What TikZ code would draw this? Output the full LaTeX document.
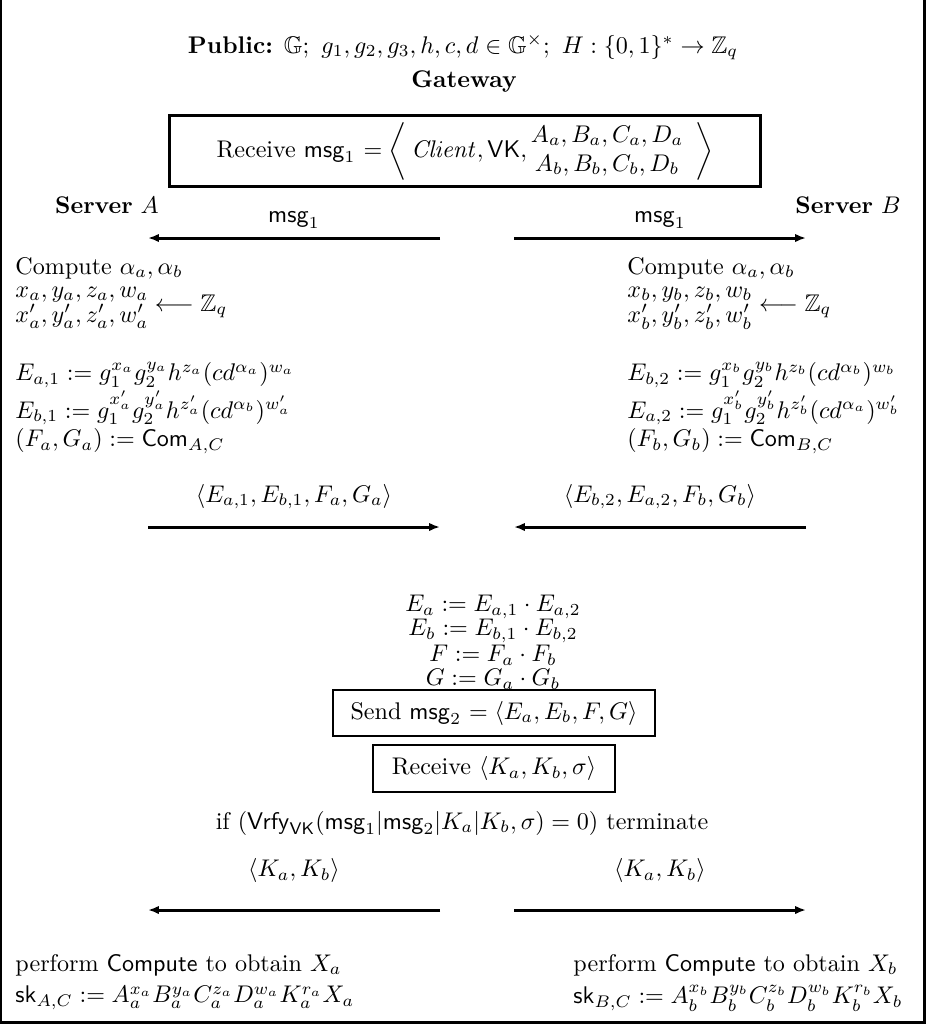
\documentclass[tikz,border=0pt]{standalone}
\usepackage{amsmath}
\usepackage{amssymb}
\usetikzlibrary{arrows.meta}
\usetikzlibrary{positioning}
\newcommand{\Msg}[1]{\ensuremath{\mathsf{msg}_{#1}}}
\newcommand{\RandRows}[1]{\ensuremath{\renewcommand{\arraystretch}{0.85}\begin{array}{@{}l@{}}x_#1,y_#1,z_#1,w_#1\\x'_#1,y'_#1,z'_#1,w'_#1\end{array}\longleftarrow\mathbb{Z}_q}}

\begin{document}
\begin{tikzpicture}[x=0.415pt,y=-0.415pt]

	\tikzstyle{msgarrow}=[-{Latex[length=4.5pt,width=3.5pt]},line width=1.25pt];
	\tikzstyle{box}=[draw,line width=1.2pt,inner sep=0pt];
	\tikzstyle{lft}=[anchor=west,inner sep=0pt];

	\useasboundingbox (0,0) rectangle (926,1024);
	\draw[line width=1pt] (1.2,0) -- (1.2,1022.3) -- (924.3,1022.3) -- (924.3,0);

	\node (pub) at (463,47) {\textbf{Public:} $\mathbb{G};\ g_1,g_2,g_3,h,c,d\in\mathbb{G}^{\times};\ H:\{0,1\}^*\rightarrow\mathbb{Z}_q$};
	\node (gw) at (464,82) {\textbf{Gateway}};
	\node (rcv1) [box,minimum width=245.3pt,minimum height=29.5pt] at (465,151)
		{Receive \Msg{1} $=\left\langle\,\mathit{Client},\mathsf{VK},\begin{array}{@{}c}A_a,B_a,C_a,D_a\\A_b,B_b,C_b,D_b\end{array}\right\rangle$};

	\node (srvA) at (107,205) {\textbf{Server} $A$};
	\node (srvB) at (848,205) {\textbf{Server} $B$};

	\coordinate (m1A) at (148,238);
	\coordinate (m1L) at (440,238);
	\coordinate (m1R) at (514,238);
	\coordinate (m1B) at (806,238);
	\draw[msgarrow] (m1L) -- node[above] {\Msg{1}} (m1A);
	\draw[msgarrow] (m1R) -- node[above] {\Msg{1}} (m1B);

	\node (cA) [lft] at (15,268) {Compute $\alpha_a,\alpha_b$};
	\node (rA) [lft] at (15,305) {\RandRows{a}};
	\node (e1A) [lft] at (15,375) {$E_{a,1}:=g_1^{x_a}g_2^{y_a}h^{z_a}(cd^{\alpha_a})^{w_a}$};
	\node (e2A) [lft] at (15,408) {$E_{b,1}:=g_1^{x'_a}g_2^{y'_a}h^{z'_a}(cd^{\alpha_b})^{w'_a}$};
	\node (fgA) [lft] at (15,441) {$(F_a,G_a):=\mathsf{Com}_{A,C}$};

	\node (cB) [lft] at (627,268) {Compute $\alpha_a,\alpha_b$};
	\node (rB) [lft] at (627,305) {\RandRows{b}};
	\node (e1B) [lft] at (627,375) {$E_{b,2}:=g_1^{x_b}g_2^{y_b}h^{z_b}(cd^{\alpha_b})^{w_b}$};
	\node (e2B) [lft] at (627,408) {$E_{a,2}:=g_1^{x'_b}g_2^{y'_b}h^{z'_b}(cd^{\alpha_a})^{w'_b}$};
	\node (fgB) [lft] at (627,441) {$(F_b,G_b):=\mathsf{Com}_{B,C}$};

	\coordinate (eA) at (148,527);
	\coordinate (eL) at (440,527);
	\coordinate (eR) at (514,527);
	\coordinate (eB) at (806,527);
	\draw[msgarrow] (eA) -- node[above=3.4pt] {$\langle E_{a,1},E_{b,1},F_a,G_a\rangle$} (eL);
	\draw[msgarrow] (eB) -- node[above=3.4pt] {$\langle E_{b,2},E_{a,2},F_b,G_b\rangle$} (eR);

	\node (Ea) at (493,607) {$E_a:=E_{a,1}\cdot E_{a,2}$};
	\node (Eb) at (493,631) {$E_b:=E_{b,1}\cdot E_{b,2}$};
	\node (F) at (493,655) {$F:=F_a\cdot F_b$};
	\node (G) at (493,679) {$G:=G_a\cdot G_b$};
	\node (send) [box,minimum width=133.6pt,minimum height=19.1pt] at (494,713)
		{Send \Msg{2} $=\langle E_a,E_b,F,G\rangle$};
	\node (rcv2) [box,minimum width=100.4pt,minimum height=19.5pt] at (494,768.5)
		{Receive $\langle K_a,K_b,\sigma\rangle$};

	\node (vrfy) at (462,823) {if $(\mathsf{Vrfy}_{\mathsf{VK}}(\Msg{1}|\Msg{2}|K_a|K_b,\sigma)=0)$ terminate};

	\coordinate (kA) at (148,910);
	\coordinate (kL) at (440,910);
	\coordinate (kR) at (514,910);
	\coordinate (kB) at (806,910);
	\draw[msgarrow] (kL) -- node[above=7.3pt] {$\langle K_a,K_b\rangle$} (kA);
	\draw[msgarrow] (kR) -- node[above=7.3pt] {$\langle K_a,K_b\rangle$} (kB);

	\node (pA) [lft] at (15,965) {perform $\mathsf{Compute}$ to obtain $X_a$};
	\node (skA) [lft] at (15,998) {$\mathsf{sk}_{A,C}:=A_a^{x_a}B_a^{y_a}C_a^{z_a}D_a^{w_a}K_a^{r_a}X_a$};
	\node (pB) [lft] at (573,965) {perform $\mathsf{Compute}$ to obtain $X_b$};
	\node (skB) [lft] at (573,998) {$\mathsf{sk}_{B,C}:=A_b^{x_b}B_b^{y_b}C_b^{z_b}D_b^{w_b}K_b^{r_b}X_b$};
\end{tikzpicture}
\end{document}
